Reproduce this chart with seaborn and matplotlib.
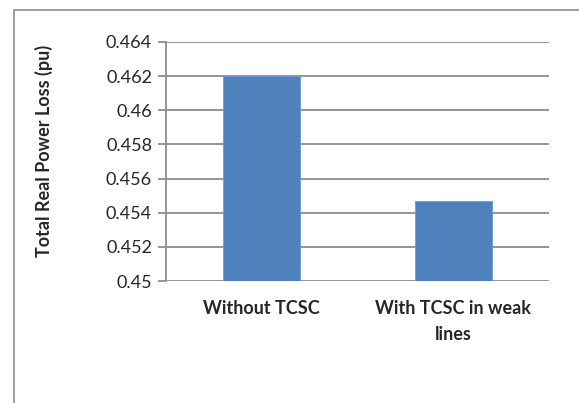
import numpy as np
import pandas as pd
import seaborn as sns
import matplotlib.pyplot as plt
from matplotlib.patches import Rectangle

categories = ["Without TCSC", "With TCSC in weak\nlines"]
loss_pu = [0.4620, 0.4547]
yticks = [0.45, 0.452, 0.454, 0.456, 0.458, 0.46, 0.462, 0.464]
ytick_labels = ["0.45", "0.452", "0.454", "0.456", "0.458", "0.46", "0.462", "0.464"]

df = pd.DataFrame({"case": categories, "loss": loss_pu})

sns.set_style("white")
plt.rcParams['font.family'] = ['Lato', 'DejaVu Sans']

fig = plt.figure(figsize=(5.79, 4.03), dpi=100)
ax = fig.add_axes([0.2867, 0.3027, 0.6615, 0.5931])

# outer chart border (only top/left fall inside the image)
fig.patches.append(Rectangle((14 / 579, -0.1), 1.2, 1 - 10 / 403 + 0.1,
                             transform=fig.transFigure, fill=False,
                             edgecolor="#8c8c8c", linewidth=1.2, zorder=0))

sns.barplot(data=df, x="case", y="loss", color="#4F81BD", saturation=1,
            width=0.4, ax=ax, zorder=3, edgecolor="#6f9bd1", linewidth=0.6)

ax.set_ylim(0.45, 0.464)
ax.set_yticks(yticks)
ax.set_yticklabels(ytick_labels, fontsize=13)
ax.yaxis.grid(True, color="#8c8c8c", linewidth=1.3)
ax.set_axisbelow(True)

for s in ["top", "right", "bottom"]:
    ax.spines[s].set_visible(False)
ax.spines["left"].set_color("#8c8c8c")
ax.spines["left"].set_linewidth(1.3)
ax.tick_params(axis="y", which="major", left=True, length=6, width=1.3,
               color="#8c8c8c", pad=4)
ax.tick_params(axis="x", length=0, pad=14)
for lbl in ax.get_xticklabels():
    lbl.set_fontweight("bold")
    lbl.set_fontsize(13)
    lbl.set_verticalalignment("top")
    lbl.set_linespacing(1.6)

ax.set_xlabel("")
ax.set_ylabel("Total Real Power Loss (pu)", fontsize=13, fontweight="bold")
ax.yaxis.set_label_coords(-0.295, 0.546)

fig.savefig("out.png", dpi=100)
plt.close()
